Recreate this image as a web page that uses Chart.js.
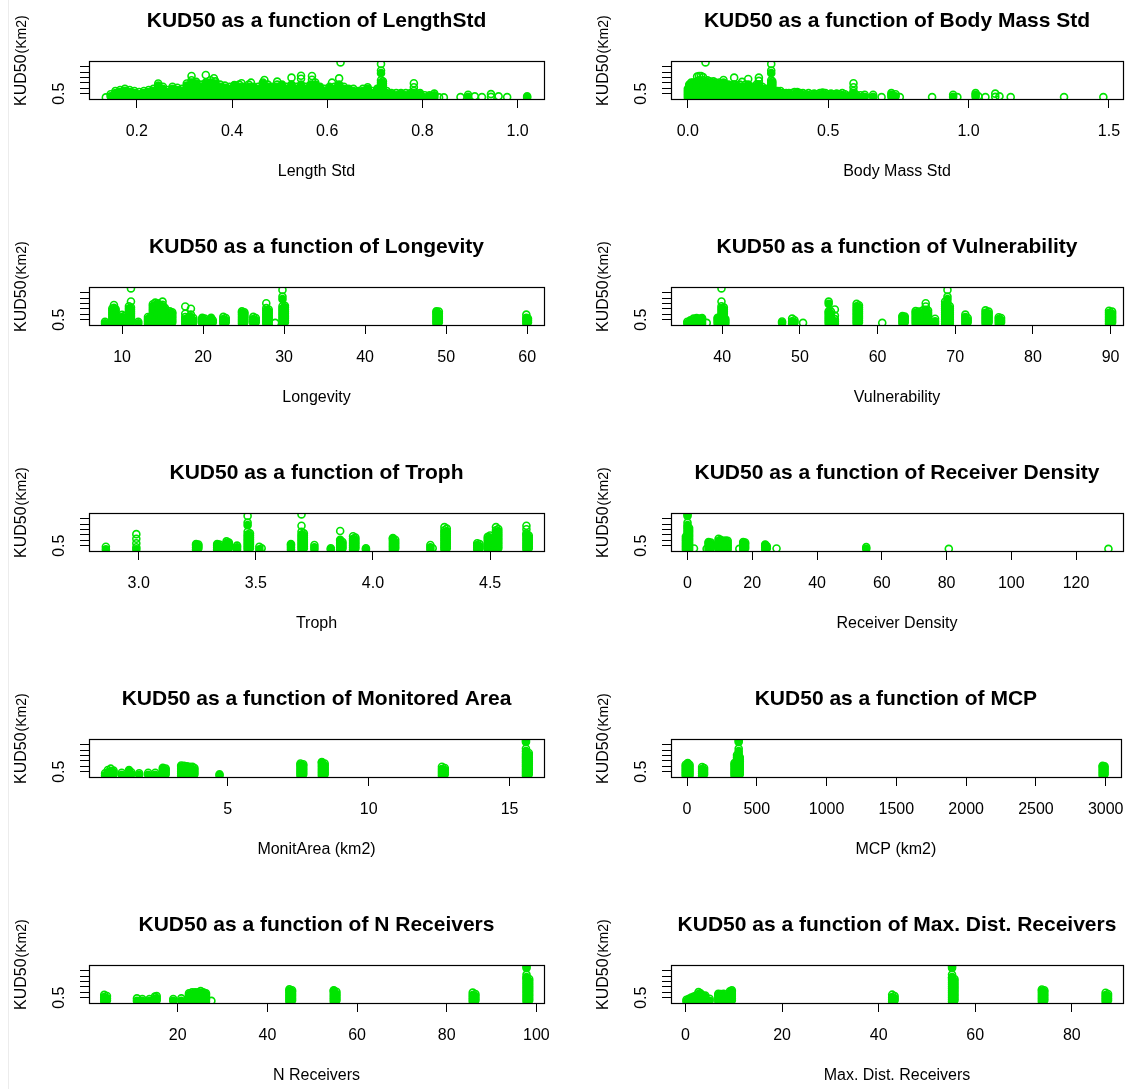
<!DOCTYPE html>
<html>
<head>
<meta charset="utf-8">
<script src="https://cdn.jsdelivr.net/npm/chart.js@4.4.1/dist/chart.umd.min.js"></script>
<style>
  body { margin: 0; background: #fff; width: 1138px; height: 1089px; overflow: hidden; position: relative; }
  .panel { position: absolute; }
  #edge { position: absolute; left: 8px; top: 0; width: 1px; height: 1089px; background: #ececec; }
</style>
</head>
<body>
<div id="edge"></div>
<script>
// KUD50 (y) values, grouped as [x, [y, y, ...]]
const yTicks = [0.5, 1, 1.5, 2, 2.5, 3];
const yTickLabels = ['0.5'];

const lengthStdTicks = [0.2, 0.4, 0.6, 0.8, 1.0];
const lengthStdLabels = ['0.2', '0.4', '0.6', '0.8', '1.0'];
const lengthStdPts = [
  [0.135,[.15]],[0.145,[.25,.45]],[0.155,[.15,.35,.55,.75]],[0.165,[.25,.45,.65,.85]],
  [0.175,[.15,.35,.55,.75,.95]],[0.185,[.25,.45,.65,.85]],[0.195,[.15,.35,.55,.75]],
  [0.205,[.25,.45,.65]],[0.215,[.15,.35,.55,.75]],[0.225,[.25,.45,.65,.85]],
  [0.235,[.15,.35,.55,.75,.95]],[0.245,[.25,.45,.65,.85,1.05,1.25,1.45]],
  [0.255,[.15,.35,.55,.75,.95,1.15]],[0.265,[.25,.45,.65,.85]],[0.275,[.15,.35,.55,.75,.95,1.15]],
  [0.285,[.25,.45,.65,.85,1.05]],[0.295,[.15,.35,.55,.75,.95]],[0.305,[.25,.45,.65,.85,1.05,1.25,1.45]],
  [0.315,[.15,.35,.55,.75,.95,1.15,1.35,1.55,1.75,2.15]],[0.325,[.25,.45,.65,.85,1.05,1.25,1.45,1.6]],
  [0.335,[.15,.35,.55,.75,.95,1.15,1.35]],[0.345,[.25,.45,.65,.85,1.05,1.25,1.45,1.55,2.25]],
  [0.355,[.15,.35,.55,.75,.95,1.15,1.35,1.55,1.75]],[0.362,[1.95]],
  [0.365,[.25,.45,.65,.85,1.05,1.25,1.45,1.65]],[0.375,[.15,.35,.55,.75,.95,1.15,1.35]],
  [0.385,[.25,.45,.65,.85,1.05,1.25]],[0.395,[.15,.35,.55,.75,.95,1.15]],
  [0.405,[.25,.45,.65,.85,1.05,1.25,1.3]],[0.415,[.15,.35,.55,.75,.95,1.15,1.35]],[0.42,[1.47]],
  [0.425,[.25,.45,.65,.85,1.05,1.15]],[0.435,[.15,.35,.55,.75,.95,1.15,1.35]],[0.44,[1.53]],
  [0.445,[.25,.45,.65,.85,1.05,1.15]],[0.455,[.15,.35,.55,.75,.95,1.15]],
  [0.465,[.25,.45,.65,.85,1.05,1.25,1.45,1.55]],[0.468,[1.78]],
  [0.475,[.15,.35,.55,.75,.95,1.15,1.35]],[0.485,[.25,.45,.65,.85,1.05,1.15]],
  [0.495,[.15,.35,.55,.75,.95,1.15,1.35,1.63]],[0.505,[.25,.45,.65,.85,1.05,1.25,1.35]],
  [0.515,[.15,.35,.55,.75,.95,1.15]],[0.525,[.25,.45,.65,.85,1.05,1.25,1.35,2.0]],
  [0.535,[.15,.35,.55,.75,.95,1.15]],[0.545,[.25,.45,.65,.85,1.05,1.25,1.35,1.9,2.18]],
  [0.555,[.15,.35,.55,.75,.95,1.15]],[0.565,[.25,.45,.65,.85,1.05,1.25,1.35]],[0.568,[1.8,2.15]],
  [0.575,[.15,.35,.55,.75,.95,1.15,1.35,1.55]],[0.585,[.25,.45,.65,.85,1.05,1.15]],
  [0.595,[.15,.35,.55,.75,.95]],[0.605,[.25,.45,.65,.85,1.05,1.15]],[0.61,[1.53]],
  [0.615,[.15,.35,.55,.75,.95,1.15]],[0.625,[.25,.45,.65,.85,1.05,1.25,1.35,1.93]],[0.628,[3.43]],
  [0.635,[.15,.35,.55,.75,.95,1.15]],[0.645,[.25,.45,.65,.85,.95]],[0.655,[.15,.35,.55,.75,.95]],
  [0.665,[.25,.45,.65,.75]],[0.675,[.15,.35,.55,.75,.95]],[0.685,[.25,.45,.65,.85,.95,1.1]],
  [0.695,[.15,.35,.55,.75]],[0.705,[.25,.45,.65,.85,.95]],
  [0.713,[.15,.35,.55,.75,.95,1.15,1.35,1.55,1.75,2.42,2.66,3.28]],
  [0.717,[.25,.45,.65,.85,1.05,1.25,1.45,1.65]],[0.725,[.15,.35,.55,.75]],
  [0.735,[.25,.45,.55]],[0.745,[.15,.35,.55]],[0.755,[.25,.45,.55]],[0.765,[.15,.35,.55]],
  [0.775,[.25,.45,.55]],[0.782,[.15,.35,.55,.75,1.1,1.47]],[0.795,[.25,.45,.55]],
  [0.805,[.15,.35]],[0.815,[.25,.35]],[0.825,[.15,.35,.5]],[0.835,[.15]],[0.845,[.15]],
  [0.88,[.18]],[0.896,[.2,.4]],[0.91,[.25]],[0.925,[.18]],[0.944,[.2,.46]],[0.96,[.25]],
  [0.978,[.18]],[1.02,[.15,.25]]
];

const bodyMassTicks = [0, 0.5, 1, 1.5];
const bodyMassLabels = ['0.0', '0.5', '1.0', '1.5'];
const bodyMassPts = [
  [0.0,[.15,.35,.55,.75,.95]],[0.005,[.25,.45,.65,.85,1.05,1.25,1.35]],
  [0.012,[.15,.35,.55,.75,.95,1.15,1.35,1.55]],[0.019,[.25,.45,.65,.85,1.05,1.25,1.45,1.55]],
  [0.026,[.15,.35,.55,.75,.95,1.15,1.35,1.55]],[0.033,[.25,.45,.65,.85,1.05,1.25,1.45,1.65,2.1]],
  [0.04,[.15,.35,.55,.75,.95,1.15,1.35,1.55,1.75,2.15]],[0.047,[.25,.45,.65,.85,1.05,1.25,1.45,1.65,2.15]],
  [0.054,[.15,.35,.55,.75,.95,1.15,1.35,1.55,1.75,2.05]],[0.063,[.25,.45,.65,.85,1.05,1.25,1.45,1.65,3.43]],
  [0.07,[.15,.35,.55,.75,.95,1.15,1.35,1.55,1.75]],[0.077,[.25,.45,.65,.85,1.05,1.25,1.45,1.65]],
  [0.084,[.15,.35,.55,.75,.95,1.15,1.35,1.55]],[0.091,[.25,.45,.65,.85,1.05,1.25,1.45,1.65]],
  [0.098,[.15,.35,.55,.75,.95,1.15,1.35,1.55]],[0.105,[.25,.45,.65,.85,1.05,1.25,1.45]],
  [0.112,[.15,.35,.55,.75,.95,1.15,1.35,1.55]],[0.12,[.25,.45,.65,.85,1.05,1.25,1.45]],
  [0.127,[.15,.35,.55,.75,.95,1.15,1.35,1.55,1.78]],[0.135,[.25,.45,.65,.85,1.05,1.25,1.35]],
  [0.145,[.15,.35,.55,.75,.95,1.15,1.35]],[0.155,[.25,.45,.65,.85,1.05,1.25]],
  [0.165,[.15,.35,.55,.75,.95,1.15,1.35,2.0]],[0.175,[.25,.45,.65,.85,1.05,1.25]],
  [0.185,[.15,.35,.55,.75,.95,1.15,1.35]],[0.193,[.25,.45,.65,.85,1.05,1.15,1.6]],
  [0.205,[.15,.35,.55,.75,.95,1.15,1.35]],[0.215,[.25,.45,.65,.85,1.05,1.25,1.35,1.87]],
  [0.225,[.15,.35,.55,.75,.95,1.15]],[0.235,[.25,.45,.65,.85,1.05,1.15]],
  [0.245,[.15,.35,.55,.75,.95,1.15,1.35]],[0.253,[.25,.45,.65,.85,1.05,1.25,1.35,1.7,2.0]],
  [0.265,[.15,.35,.55,.75,.95,1.15]],[0.275,[.25,.45,.65,.85,.95]],[0.285,[.15,.35,.55,.75,.95]],
  [0.297,[.15,.35,.55,.75,.95,1.15,1.35,1.55,1.75,2.42,2.66,3.28]],
  [0.301,[.25,.45,.65,.85,1.05,1.25,1.45,1.65]],[0.31,[.15,.35,.55,.75]],[0.32,[.25,.45,.65,.75]],
  [0.33,[.15,.35,.55,.75]],[0.34,[.25,.45,.55]],[0.35,[.15,.35,.55]],[0.36,[.25,.45,.55]],
  [0.37,[.15,.35,.55]],[0.38,[.25,.45,.65]],[0.39,[.15,.35,.55,.65]],[0.4,[.25,.45,.55]],
  [0.41,[.15,.35,.55]],[0.42,[.25,.45]],[0.43,[.15,.35,.55]],[0.44,[.25,.45]],[0.45,[.15,.35,.5]],
  [0.46,[.25,.45]],[0.47,[.15,.35,.55]],[0.48,[.25,.45,.6]],[0.49,[.15,.35,.55]],[0.5,[.25,.45]],
  [0.51,[.15,.35,.5]],[0.52,[.25,.45]],[0.53,[.15,.35,.5]],[0.54,[.25,.45]],[0.55,[.15,.35,.55]],
  [0.56,[.25,.45]],[0.575,[.15,.3]],[0.59,[.15,.35,.55,.75,1.1,1.47]],[0.6,[.2,.4]],
  [0.615,[.15,.35]],[0.63,[.2,.4]],[0.66,[.2,.4]],[0.69,[.18]],[0.725,[.2,.4,.55]],
  [0.74,[.25,.45]],[0.755,[.18]],[0.87,[.18]],[0.945,[.2,.4]],[0.96,[.18]],[1.025,[.2,.4,.55]],
  [1.035,[.25]],[1.06,[.18]],[1.095,[.2,.5]],[1.11,[.25]],[1.15,[.18]],[1.34,[.18]],[1.48,[.18]]
];

const longevityTicks = [10, 20, 30, 40, 50, 60];
const longevityLabels = ['10', '20', '30', '40', '50', '60'];
const longevityPts = [
  [7.9,[.15,.3]],[8.8,[.15,.35,.55,.75,.95,1.15,1.35,1.55]],[9.0,[.25,.45,.65,.85,1.05,1.25,1.45,1.6,1.88]],
  [9.2,[.15,.35,.55,.75,.95,1.15,1.35,1.5]],[10.0,[.15,.35,.55,.75,.95]],[10.3,[.25,.45,.65,.85]],
  [10.85,[.15,.35,.55,.75,.95,1.15,1.35,1.55,1.75]],[11.1,[.25,.45,.65,.85,1.05,1.25,1.45,1.65,2.2,3.43]],
  [12.0,[.15,.3]],[13.2,[.15,.35,.55,.75]],[13.5,[.25,.45,.65,.75]],
  [13.8,[.15,.35,.55,.75,.95,1.15,1.35,1.55,1.75,1.95]],[14.1,[.25,.45,.65,.85,1.05,1.25,1.45,1.65,1.85,2.1]],
  [14.4,[.15,.35,.55,.75,.95,1.15,1.35,1.55,1.75,1.95,2.04]],[14.7,[.25,.45,.65,.85,1.05,1.25,1.45,1.65,1.8]],
  [15.0,[.15,.35,.55,.75,.95,1.15,1.35,1.55,1.75,1.9,2.19]],[15.3,[.25,.45,.65,.85,1.05,1.25,1.45,1.6]],
  [15.9,[.15,.35,.55,.75,.95,1.15,1.28]],[16.2,[.25,.45,.65,.85,1.05,1.2]],
  [17.8,[.15,.35,.55,.75,1.06,1.73]],[18.1,[.25,.45,.65]],[18.5,[.15,.35,.55,.75,.97,1.52]],
  [18.8,[.25,.45,.65]],[19.9,[.15,.35,.55,.67]],[20.2,[.25,.45,.6]],[21.0,[.15,.35,.55,.67]],
  [21.2,[.25,.45]],[22.5,[.15,.35,.55,.76]],[22.8,[.25,.45,.65]],
  [24.8,[.15,.35,.55,.75,.95,1.15,1.28]],[25.1,[.25,.45,.65,.85,1.05,1.2]],
  [26.2,[.15,.35,.55,.76]],[26.5,[.25,.45,.65]],
  [27.8,[.15,.35,.55,.75,.95,1.15,1.35,1.58,2.04]],[28.1,[.25,.45,.65,.85,1.05,1.25,1.45]],
  [28.9,[.2]],[29.8,[.15,.35,.55,.75,.95,1.15,1.35,1.55,1.75,2.42,2.66,3.28]],
  [30.1,[.25,.45,.65,.85,1.05,1.25,1.45,1.65,1.8]],
  [48.8,[.15,.35,.55,.75,.95,1.15,1.28]],[49.1,[.25,.45,.65,.85,1.05,1.25]],
  [59.9,[.15,.35,.55,.67,.97]],[60.1,[.25,.45,.6]]
];

const vulnTicks = [40, 50, 60, 70, 80, 90];
const vulnLabels = ['40', '50', '60', '70', '80', '90'];
const vulnPts = [
  [35.5,[.15,.3]],[35.9,[.15,.35,.45]],[36.3,[.25,.45,.6]],[36.7,[.15,.35,.55,.65]],
  [37.1,[.25,.45,.6]],[37.4,[.15,.35,.55,.65]],[38.0,[.2]],[39.4,[.15,.35,.55,.67]],
  [39.9,[.15,.35,.55,.75,.95,1.15,1.35,1.55,1.75,2.2,3.43]],[40.2,[.25,.45,.65,.85,1.05,1.25,1.45,1.65]],
  [40.4,[.15,.35,.55]],[47.7,[.2,.33]],[49.0,[.15,.35,.6]],[49.3,[.25,.45]],[50.4,[.2]],
  [53.7,[.15,.35,.55,.75,.95,1.15,1.28,1.98,2.19]],[54.0,[.25,.45,.65,.85,1.05,1.25]],
  [54.5,[.15,.35,.55,.88,1.45]],[57.3,[.15,.35,.55,.75,.95,1.15,1.35,1.55,1.75,1.98]],
  [57.6,[.25,.45,.65,.85,1.05,1.25,1.45,1.65,1.85]],[60.6,[.2]],
  [63.2,[.15,.35,.55,.75,.85]],[63.5,[.25,.45,.65,.8]],
  [64.9,[.15,.35,.55,.75,.95,1.15,1.3]],[65.3,[.25,.45,.65,.85,1.05,1.25]],
  [65.8,[.15,.35,.55,.75,.95,1.15,1.35]],[66.2,[.25,.45,.65,.85,1.05,1.25,1.43,1.73,2.04]],
  [66.5,[.15,.35,.55,.75,.95,1.15,1.35]],[67.4,[.15,.35,.58]],
  [68.7,[.15,.35,.55,.75,.95,1.15,1.35,1.55,1.75,1.95,2.19]],
  [69.0,[.25,.45,.65,.85,1.05,1.25,1.45,1.65,1.85,2.1,2.42,2.66,3.28]],
  [69.3,[.15,.35,.55,.75,.95,1.15,1.35,1.55,1.75]],
  [71.3,[.15,.35,.55,.75,.97]],[71.6,[.25,.45,.65]],
  [73.9,[.15,.35,.55,.75,.95,1.15,1.37]],[74.3,[.25,.45,.65,.85,1.05,1.25]],
  [75.6,[.15,.35,.55,.73]],[75.9,[.25,.45,.65]],
  [89.8,[.15,.35,.55,.75,.95,1.15,1.34]],[90.2,[.25,.45,.65,.85,1.05,1.25]]
];

const trophTicks = [3, 3.5, 4, 4.5];
const trophLabels = ['3.0', '3.5', '4.0', '4.5'];
const trophPts = [
  [2.86,[.15,.4]],[2.99,[.15,.35,.73,1.15,1.58]],[3.245,[.15,.35,.55,.66]],[3.255,[.25,.45,.6]],
  [3.335,[.15,.35,.55,.66]],[3.345,[.25,.45,.6]],[3.375,[.15,.35,.55,.75,.9]],[3.385,[.25,.45,.65,.8]],
  [3.42,[.15,.35,.5]],[3.465,[.15,.35,.55,.75,.95,1.15,1.35,1.55,1.8,2.42,2.66,3.28]],
  [3.475,[.25,.45,.65,.85,1.05,1.25,1.45,1.65]],[3.515,[.15,.4]],[3.525,[.25]],
  [3.65,[.15,.35,.55,.66]],[3.695,[.15,.35,.55,.75,.95,1.15,1.35,1.55,1.8,2.37,3.43]],
  [3.705,[.25,.45,.65,.85,1.05,1.25,1.45,1.65]],[3.75,[.15,.35,.56]],[3.82,[.15,.26]],
  [3.86,[.15,.35,.55,.75,.95,1.05,1.88]],[3.87,[.25,.45,.65,.85]],
  [3.915,[.15,.35,.55,.75,.95,1.15,1.38]],[3.925,[.25,.45,.65,.85,1.05,1.25]],[3.97,[.15,.26]],
  [4.085,[.15,.35,.55,.75,.95,1.15,1.22]],[4.095,[.25,.45,.65,.85,1.05]],
  [4.245,[.15,.35,.56]],[4.255,[.25]],
  [4.305,[.15,.35,.55,.75,.95,1.15,1.35,1.55,1.75,1.95,2.24]],
  [4.315,[.25,.45,.65,.85,1.05,1.25,1.45,1.65,1.85,2.1]],
  [4.445,[.15,.35,.55,.73]],[4.455,[.25,.45,.65]],
  [4.49,[.15,.35,.55,.75,.95,1.15,1.32]],[4.5,[.25,.45,.65,.85,1.05,1.25,1.45]],
  [4.525,[.15,.35,.55,.75,.95,1.15,1.35,1.55,1.75,1.95,2.24]],
  [4.535,[.25,.45,.65,.85,1.05,1.25,1.45,1.65,1.85,2.05]],
  [4.655,[.15,.35,.55,.75,.95,1.15,1.35,1.55,1.65,2.04,2.37]],[4.665,[.25,.45,.65,.85,1.05,1.25,1.45]]
];

const densityTicks = [0, 20, 40, 60, 80, 100, 120];
const densityLabels = ['0', '20', '40', '60', '80', '100', '120'];
const densityPts = [
  [-0.5,[.15,.35,.55,.75,.95,1.15,1.35]],
  [0.0,[.25,.45,.65,.85,1.05,1.25,1.45,1.65,1.85,2.05,2.25,2.42,2.66,3.28,3.43]],
  [0.5,[.15,.35,.55,.75,.95,1.15,1.35,1.55,1.75,1.95,2.15]],[2.0,[.24]],[5.9,[.2]],
  [6.5,[.15,.35,.55,.75,.85]],[7.2,[.25,.45,.65,.8]],[9.6,[.15,.35,.55,.75,.95,1.15]],
  [10.2,[.25,.45,.65,.85,1.05]],[11.0,[.15,.35,.55,.75,.95]],[11.8,[.25,.45,.65,.85,.97]],
  [12.4,[.15,.35,.55,.75,.95]],[16.0,[.2]],[17.2,[.15,.35,.55,.75,.85]],[17.8,[.25,.45,.65,.8]],
  [24.0,[.15,.35,.55,.6]],[24.5,[.25,.45]],[27.5,[.24]],[55.2,[.2,.36]],[80.7,[.2]],[130,[.2]]
];

const areaTicks = [5, 10, 15];
const areaLabels = ['5', '10', '15'];
const areaPts = [
  [0.65,[.15,.35]],[0.75,[.25,.45,.65]],[0.85,[.15,.35,.55,.78]],[0.95,[.25,.45,.6]],
  [1.24,[.2,.4]],[1.5,[.15,.35,.55,.65]],[1.58,[.25,.45]],[1.86,[.2,.35]],[2.18,[.2,.4]],
  [2.43,[.2,.4]],[2.7,[.15,.35,.55,.75,.87]],[2.8,[.25,.45,.65,.8]],
  [3.35,[.15,.35,.55,.75,.95,1.08]],[3.45,[.25,.45,.65,.85,1.05]],[3.55,[.15,.35,.55,.75,.95,1.0]],
  [3.65,[.25,.45,.65,.85,.96]],[3.75,[.15,.35,.55,.75,.95]],[3.82,[.25,.45,.65,.85]],
  [4.71,[.15,.25]],[7.58,[.15,.35,.55,.75,.95,1.15,1.27]],[7.68,[.25,.45,.65,.85,1.05,1.2]],
  [8.34,[.15,.35,.55,.75,.95,1.15,1.35,1.4]],[8.44,[.25,.45,.65,.85,1.05,1.25]],
  [12.6,[.15,.35,.55,.75,.96]],[12.7,[.25,.45,.65,.85]],
  [15.58,[.15,.35,.55,.75,.95,1.15,1.35,1.55,1.75,1.95,2.15,2.42,2.66,3.28,3.43]],
  [15.68,[.25,.45,.65,.85,1.05,1.25,1.45,1.65,1.85,2.05,2.25]]
];

const mcpTicks = [0, 500, 1000, 1500, 2000, 2500, 3000];
const mcpLabels = ['0', '500', '1000', '1500', '2000', '2500', '3000'];
const mcpPts = [
  [-10,[.15,.35,.55,.75,.95,1.15]],[5,[.25,.45,.65,.85,1.05,1.25,1.3]],[18,[.15,.35,.55,.75,.95,1.15]],
  [108,[.15,.35,.55,.75,.94]],[122,[.25,.45,.65,.85]],
  [340,[.15,.35,.55,.75,.95,1.15,1.3]],[358,[.25,.45,.65,.85,1.05,1.25,1.45,1.65,1.85,2.05]],
  [370,[.15,.35,.55,.75,.95,1.15,1.35,1.55,1.75,1.95,2.2,2.42,2.66,3.28,3.43]],
  [378,[.25,.45,.65,.85,1.05,1.25,1.45,1.65,1.85]],
  [2978,[.15,.35,.55,.75,.95,1.06]],[2992,[.25,.45,.65,.85,1.0]]
];

const nRecTicks = [20, 40, 60, 80, 100];
const nRecLabels = ['20', '40', '60', '80', '100'];
const nRecPts = [
  [3.6,[.15,.35,.55,.76]],[4.2,[.25,.45,.65]],[10.9,[.2,.43]],[12.1,[.2,.38]],[13.7,[.2,.38]],
  [14.9,[.2,.4,.6]],[15.3,[.25,.45,.65]],[19.0,[.2,.38]],[20.8,[.2,.43]],
  [22.5,[.15,.35,.55,.75,.9]],[23.2,[.25,.45,.65,.85,1.0]],[23.9,[.15,.35,.55,.75,.95,1.0]],
  [24.6,[.25,.45,.65,.85,1.0]],[25.1,[.15,.35,.55,.75,.95,1.12]],[25.7,[.25,.45,.65,.85,1.0]],
  [26.3,[.15,.35,.55,.75,.9]],[27.5,[.2]],
  [44.9,[.15,.35,.55,.75,.95,1.15,1.28]],[45.5,[.25,.45,.65,.85,1.05,1.2]],
  [54.8,[.15,.35,.55,.75,.95,1.15,1.2]],[55.4,[.25,.45,.65,.85,1.05]],
  [85.8,[.15,.35,.55,.75,.97]],[86.4,[.25,.45,.65,.85]],
  [97.8,[.15,.35,.55,.75,.95,1.15,1.35,1.55,1.75,1.95,2.15,2.35,2.42,2.66,3.28,3.43]],
  [98.4,[.25,.45,.65,.85,1.05,1.25,1.45,1.65,1.85,2.05,2.25]]
];

const maxDistTicks = [0, 20, 40, 60, 80];
const maxDistLabels = ['0', '20', '40', '60', '80'];
const maxDistPts = [
  [0.2,[.15,.3]],[0.7,[.2,.4]],[1.2,[.15,.35,.5]],[1.7,[.25,.45,.6]],[2.2,[.15,.35,.55,.7]],
  [2.7,[.25,.45,.65,.85,1.02]],[3.1,[.15,.35,.55,.75,.9]],[3.6,[.25,.45,.65,.7]],
  [4.1,[.15,.35,.55,.7]],[5.0,[.2,.4]],[6.8,[.15,.35,.55,.75,.87]],[7.3,[.25,.45,.65,.85]],
  [7.9,[.15,.35,.55,.75,.87]],[9.2,[.15,.35,.55,.75,.95,1.1]],[9.6,[.25,.45,.65,.85,1.05,1.18]],
  [42.8,[.15,.35,.55,.78]],[43.3,[.25,.45,.65]],
  [55.2,[.15,.35,.55,.75,.95,1.15,1.35,1.55,1.75,1.95,2.15,2.35,2.42,2.66,3.28,3.43]],
  [55.7,[.25,.45,.65,.85,1.05,1.25,1.45,1.65,1.85,2.05,2.25]],
  [73.8,[.15,.35,.55,.75,.95,1.15,1.27]],[74.3,[.25,.45,.65,.85,1.05,1.2]],
  [87.0,[.15,.35,.55,.75,.96]],[87.5,[.25,.45,.65,.85]]
];

const panels = [
  { title: 'KUD50 as a function of LengthStd', xLabel: 'Length Std', min: 0.0996, max: 1.0554, ticks: lengthStdTicks, labels: lengthStdLabels, pts: lengthStdPts },
  { title: 'KUD50 as a function of Body Mass Std', xLabel: 'Body Mass Std', min: -0.06, max: 1.55, ticks: bodyMassTicks, labels: bodyMassLabels, pts: bodyMassPts },
  { title: 'KUD50 as a function of Longevity', xLabel: 'Longevity', min: 5.92, max: 62.08, ticks: longevityTicks, labels: longevityLabels, pts: longevityPts },
  { title: 'KUD50 as a function of Vulnerability', xLabel: 'Vulnerability', min: 33.4, max: 91.6, ticks: vulnTicks, labels: vulnLabels, pts: vulnPts },
  { title: 'KUD50 as a function of Troph', xLabel: 'Troph', min: 2.788, max: 4.73, ticks: trophTicks, labels: trophLabels, pts: trophPts },
  { title: 'KUD50 as a function of Receiver Density', xLabel: 'Receiver Density', min: -5.1, max: 134.5, ticks: densityTicks, labels: densityLabels, pts: densityPts },
  { title: 'KUD50 as a function of Monitored Area', xLabel: 'MonitArea (km2)', min: 0.08, max: 16.22, ticks: areaTicks, labels: areaLabels, pts: areaPts },
  { title: 'KUD50 as a function of MCP', xLabel: 'MCP (km2)', min: -115, max: 3108, ticks: mcpTicks, labels: mcpLabels, pts: mcpPts },
  { title: 'KUD50 as a function of N Receivers', xLabel: 'N Receivers', min: 0.2, max: 101.7, ticks: nRecTicks, labels: nRecLabels, pts: nRecPts },
  { title: 'KUD50 as a function of Max. Dist. Receivers', xLabel: 'Max. Dist. Receivers', min: -3, max: 90.6, ticks: maxDistTicks, labels: maxDistLabels, pts: maxDistPts }
];

const rowTops = [0, 226, 452, 678, 904];
const GREEN = '#00e400';
const FONT = "'Liberation Sans', Arial, Helvetica, sans-serif";

// R-style frame, titles and rotated y labels
const framePlugin = {
  id: 'frame',
  afterDraw(chart, args, opts) {
    const ctx = chart.ctx;
    const a = chart.chartArea;
    const cx = (a.left + a.right) / 2;
    ctx.save();
    ctx.strokeStyle = '#000';
    ctx.lineWidth = 1.2;
    ctx.strokeRect(Math.round(a.left) + 0.5, Math.round(a.top) + 0.5, Math.round(a.right - a.left), Math.round(a.bottom - a.top));

    ctx.fillStyle = '#000';
    ctx.textAlign = 'center';
    ctx.textBaseline = 'middle';
    ctx.font = 'bold 21px ' + FONT;
    ctx.fillText(opts.title, cx, a.top - 40);
    ctx.font = '16px ' + FONT;
    ctx.fillText(opts.xLabel, cx, a.bottom + 73);

    // y tick label (only the first fits in R)
    const py = chart.scales.y.getPixelForValue(yTicks[0]);
    ctx.save();
    ctx.translate(a.left - 29, py);
    ctx.rotate(-Math.PI / 2);
    ctx.fillText(yTickLabels[0], 0, 0);
    ctx.restore();

    // y axis title: KUD50 (Km2)
    ctx.save();
    ctx.translate(a.left - 69, a.bottom + 7);
    ctx.rotate(-Math.PI / 2);
    ctx.textAlign = 'left';
    ctx.textBaseline = 'alphabetic';
    ctx.font = '16px ' + FONT;
    ctx.fillText('KUD50', 0, 5.8);
    const w = ctx.measureText('KUD50').width;
    ctx.font = '14px ' + FONT;
    ctx.fillText('(Km2)', w + 1, 5.8);
    ctx.restore();
    ctx.restore();
  }
};

panels.forEach((p, i) => {
  const col = i % 2, row = Math.floor(i / 2);
  const cv = document.createElement('canvas');
  cv.width = 569;
  cv.height = 226;
  cv.className = 'panel';
  cv.style.left = (col ? 569 : 0) + 'px';
  cv.style.top = rowTops[row] + 'px';
  document.body.appendChild(cv);

  const boxLeft = col ? 102 : 89;
  const padRight = col ? 15 : 25;
  // a circle that has another one just above it in the same column is overdrawn solid
  const data = p.pts.flatMap(([x, ys]) => ys.map(y => ({
    x, y, solid: ys.some(o => o > y && o - y <= 0.25)
  })));

  new Chart(cv, {
    type: 'scatter',
    data: {
      datasets: [{
        data,
        pointStyle: 'circle',
        pointRadius: 3.5,
        pointHoverRadius: 3.5,
        borderWidth: 1.6,
        borderColor: GREEN,
        backgroundColor: c => (c.raw && c.raw.solid) ? GREEN : 'rgba(0,0,0,0)',
        clip: 0
      }]
    },
    options: {
      responsive: false,
      animation: false,
      events: [],
      layout: { padding: { left: 0, top: 61, right: padRight, bottom: 77 } },
      plugins: {
        legend: { display: false },
        tooltip: { enabled: false },
        frame: { title: p.title, xLabel: p.xLabel }
      },
      scales: {
        x: {
          type: 'linear',
          min: p.min,
          max: p.max,
          afterBuildTicks: s => { s.ticks = p.ticks.map(v => ({ value: v })); },
          afterFit: s => { s.height = 50; },
          grid: { drawOnChartArea: false, drawTicks: true, tickLength: 9, color: '#000', lineWidth: 1 },
          border: { display: false },
          ticks: {
            autoSkip: false, maxRotation: 0, minRotation: 0, padding: 14, color: '#000',
            font: { family: FONT, size: 16, lineHeight: 1.2 },
            callback: (v, idx) => p.labels[idx]
          }
        },
        y: {
          type: 'linear',
          min: 0,
          max: 3.56,
          afterBuildTicks: s => { s.ticks = yTicks.map(v => ({ value: v })); },
          afterFit: s => { s.width = boxLeft; },
          grid: { drawOnChartArea: false, drawTicks: true, tickLength: 9, color: '#000', lineWidth: 1 },
          border: { display: false },
          ticks: { display: false }
        }
      }
    },
    plugins: [framePlugin]
  });
});
</script>
</body>
</html>
